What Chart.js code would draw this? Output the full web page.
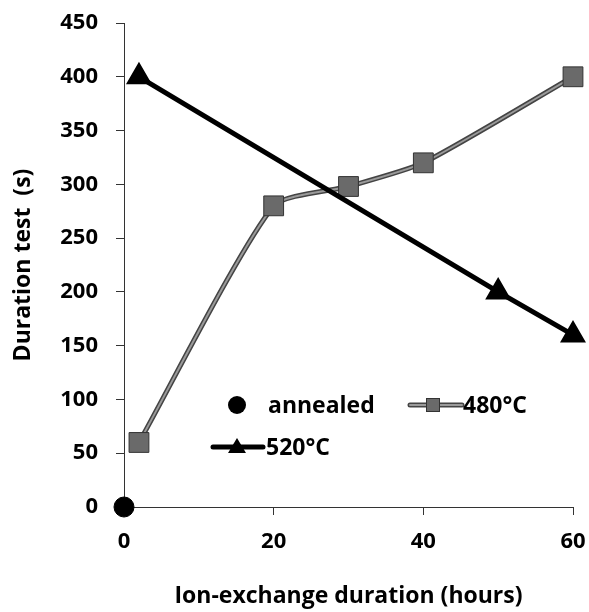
<!DOCTYPE html>
<html><head><meta charset="utf-8">
<script src="https://cdn.jsdelivr.net/npm/chart.js@4/dist/chart.umd.min.js"></script>
<style>html,body{margin:0;padding:0;background:#fff}#wrap{width:589px;height:612px}</style>
</head><body><div id="wrap"><canvas id="c" width="589" height="612"></canvas></div>
<script>
const annealedX = [0];
const annealedY = [0];
const x480 = [2, 20, 30, 40, 60];
const y480 = [60, 280, 298, 320, 400];
const x520 = [2, 50, 60];
const y520 = [400, 200, 160];
const xTicks = [0, 20, 40, 60];
const yTicks = [0, 50, 100, 150, 200, 250, 300, 350, 400, 450];

const pts = (xs, ys) => xs.map((x, i) => ({x: x, y: ys[i]}));
const FONT = "'Open Sans', 'Liberation Sans', sans-serif";

const legendPlugin = {
  id: 'customLegend',
  afterDraw(chart) {
    const ctx = chart.ctx;
    ctx.save();
    ctx.font = "bold 23px " + FONT;
    ctx.textBaseline = 'middle';
    ctx.fillStyle = '#000';
    // annealed
    ctx.beginPath(); ctx.arc(237, 405, 9, 0, Math.PI * 2); ctx.fillStyle = '#000'; ctx.fill();
    ctx.fillText('annealed', 268, 406);
    // 480
    ctx.lineCap = 'round';
    ctx.strokeStyle = '#444'; ctx.lineWidth = 5;
    ctx.beginPath(); ctx.moveTo(410, 405); ctx.lineTo(462, 405); ctx.stroke();
    ctx.strokeStyle = '#9a9a9a'; ctx.lineWidth = 2;
    ctx.beginPath(); ctx.moveTo(410, 405); ctx.lineTo(462, 405); ctx.stroke();
    ctx.fillStyle = '#6a6a6a'; ctx.fillRect(426, 398, 14, 14);
    ctx.strokeStyle = '#333'; ctx.lineWidth = 1; ctx.strokeRect(426.5, 398.5, 13, 13);
    ctx.fillStyle = '#000'; ctx.fillText('480°C', 463, 406);
    // 520
    ctx.strokeStyle = '#000'; ctx.lineWidth = 5;
    ctx.beginPath(); ctx.moveTo(213, 447); ctx.lineTo(263, 447); ctx.stroke();
    ctx.beginPath(); ctx.moveTo(237, 438); ctx.lineTo(246, 453); ctx.lineTo(228, 453); ctx.closePath(); ctx.fill();
    ctx.fillText('520°C', 266, 448);
    ctx.restore();
  }
};

const zeroPad = s => { s.paddingLeft = 0; s.paddingRight = 0; s.paddingTop = 0; s.paddingBottom = 0; };

new Chart(document.getElementById('c'), {
  type: 'scatter',
  data: {
    datasets: [
      { label: 'annealed', data: pts(annealedX, annealedY), showLine: false, pointRadius: 10, pointBackgroundColor: '#000', pointBorderColor: '#000', clip: false, order: 3 },
      { label: '480°C outline', data: pts(x480, y480), showLine: true, tension: 0.2, borderColor: '#444', borderWidth: 5, pointRadius: 0, order: 2 },
      { label: '480°C', data: pts(x480, y480), showLine: true, tension: 0.2, borderColor: '#9a9a9a', borderWidth: 2, pointStyle: 'rect', pointRadius: 14, pointBackgroundColor: '#6a6a6a', pointBorderColor: '#333', pointBorderWidth: 1, clip: false, order: 1 },
      { label: '520°C', data: pts(x520, y520), showLine: true, borderColor: '#000', borderWidth: 5, pointStyle: 'triangle', pointRadius: 10, pointBackgroundColor: '#000', pointBorderColor: '#000', clip: false, order: 0 }
    ]
  },
  options: {
    responsive: false,
    animation: false,
    layout: { padding: { left: 8, right: 16, top: 23, bottom: 0 } },
    plugins: { legend: { display: false }, tooltip: { enabled: false } },
    scales: {
      x: {
        type: 'linear', min: 0, max: 60,
        afterBuildTicks: s => { s.ticks = xTicks.map(v => ({value: v})); },
        afterFit: s => { s.height = 105; zeroPad(s); },
        grid: { drawOnChartArea: false, drawTicks: true, tickLength: 8, color: '#333' },
        border: { display: true, color: '#333', width: 1 },
        ticks: { color: '#000', font: { family: FONT, size: 22, weight: 'bold' }, padding: 14, maxRotation: 0 },
        title: { display: true, text: 'Ion-exchange duration (hours)', color: '#000', font: { family: FONT, size: 23, weight: 'bold' }, padding: { top: 0, bottom: 2 } }
      },
      y: {
        type: 'linear', min: 0, max: 450,
        afterBuildTicks: s => { s.ticks = yTicks.map(v => ({value: v})); },
        afterFit: s => { s.width = 116; zeroPad(s); },
        grid: { drawOnChartArea: false, drawTicks: true, tickLength: 8, color: '#333' },
        border: { display: true, color: '#333', width: 1 },
        ticks: { color: '#000', font: { family: FONT, size: 22, weight: 'bold' }, padding: 18 },
        title: { display: true, text: 'Duration test  (s)', color: '#000', font: { family: FONT, size: 23, weight: 'bold' }, padding: { top: 2, bottom: 0 } }
      }
    }
  },
  plugins: [legendPlugin]
});
</script></body></html>
